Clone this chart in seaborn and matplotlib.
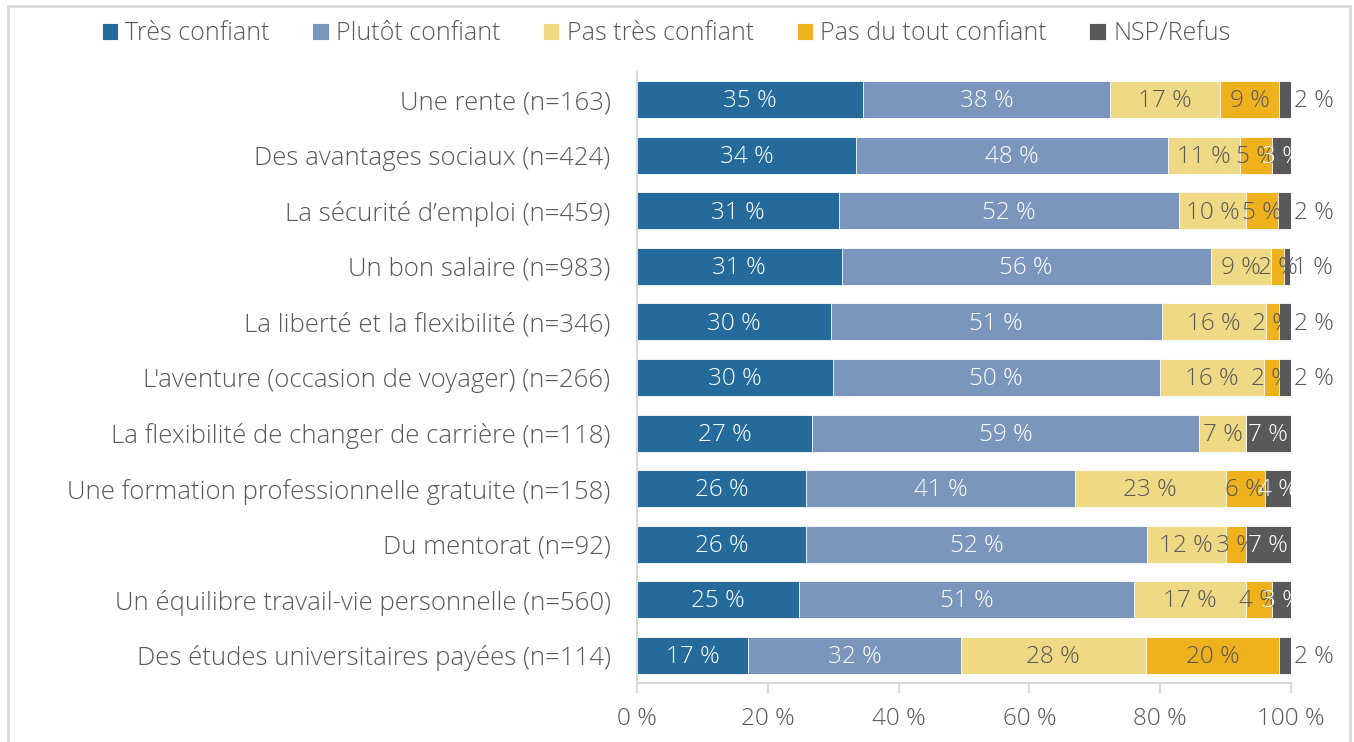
import matplotlib
matplotlib.use("Agg")
import matplotlib.pyplot as plt
import seaborn as sns
import numpy as np
import pandas as pd
from matplotlib.patches import Rectangle

categories = [
    "Une rente (n=163)",
    "Des avantages sociaux (n=424)",
    "La sécurité d\u2019emploi (n=459)",
    "Un bon salaire (n=983)",
    "La liberté et la flexibilité (n=346)",
    "L'aventure (occasion de voyager) (n=266)",
    "La flexibilité de changer de carrière (n=118)",
    "Une formation professionnelle gratuite (n=158)",
    "Du mentorat (n=92)",
    "Un équilibre travail-vie personnelle (n=560)",
    "Des études universitaires payées (n=114)",
]
series_names = ["Très confiant", "Plutôt confiant", "Pas très confiant",
                "Pas du tout confiant", "NSP/Refus"]
tres_confiant = [34.6, 33.5, 30.9, 31.3, 29.6, 29.9, 26.8, 25.9, 25.9, 24.8, 17.0]
plutot_confiant = [37.7, 47.7, 52.0, 56.4, 50.6, 50.1, 59.2, 41.0, 52.1, 51.2, 32.5]
pas_tres_confiant = [16.8, 11.0, 10.2, 9.3, 16.0, 15.9, 7.1, 23.1, 12.0, 17.1, 28.3]
pas_du_tout_confiant = [9.1, 4.9, 4.9, 2.0, 1.9, 2.2, 0.0, 6.0, 3.1, 4.0, 20.4]
nsp_refus = [1.8, 2.9, 2.0, 0.9, 1.9, 1.9, 6.9, 4.0, 6.9, 2.9, 1.8]
x_ticks = [0, 20, 40, 60, 80, 100]
x_tick_labels = ["0 %", "20 %", "40 %", "60 %", "80 %", "100 %"]

colors = ["#246A9A", "#7A96BC", "#F0D984", "#EFB21C", "#595959"]
label_colors = ["white", "white", "#595959", "#595959", "white"]
txt = "#595959"

sns.set_theme(style="white")
plt.rcParams["font.family"] = ["Open Sans", "DejaVu Sans"]
plt.rcParams["font.weight"] = "light"

values = np.array([tres_confiant, plutot_confiant, pas_tres_confiant,
                   pas_du_tout_confiant, nsp_refus])
cum = np.cumsum(values, axis=0)

fig = plt.figure(figsize=(13.54, 7.42), dpi=100)
ax = fig.add_axes([637 / 1354, 1 - 683 / 742, (1291 - 637) / 1354, (683 - 72) / 742])

# draw stacked bars by overlaying cumulative totals (largest first)
for i in range(len(series_names) - 1, -1, -1):
    df = pd.DataFrame({"cat": categories, "val": cum[i]})
    sns.barplot(data=df, x="val", y="cat", orient="h", color=colors[i],
                width=0.665, edgecolor="white", linewidth=0.6,
                saturation=1, ax=ax, label=series_names[i])

# data labels
fs_bar = 17.5
fs_cat = 18.5
for i in range(len(series_names)):
    for j in range(len(categories)):
        v = values[i, j]
        if v <= 0:
            continue
        lab = f"{int(round(v))} %"
        start = cum[i, j] - v
        if i == 4 and v < 2.5:
            ax.text(cum[i, j] + 0.4, j + 0.03, lab, ha="left", va="center",
                    fontsize=fs_bar, color=txt)
        else:
            ax.text(start + v / 2, j + 0.03, lab, ha="center", va="center",
                    fontsize=fs_bar, color=label_colors[i])

ax.set_xlim(0, 100)
ax.set_ylim(len(categories) - 0.5, -0.5)
ax.set_xticks(x_ticks)
ax.set_xticklabels(x_tick_labels, fontsize=fs_bar, color=txt)
ax.tick_params(axis="y", labelsize=fs_cat, labelcolor=txt, length=0, pad=19)
ax.tick_params(axis="x", length=7, width=1.5, color="#D9D9D9", pad=10,
               bottom=True)
ax.set_xlabel("")
ax.set_ylabel("")
for s in ["top", "right"]:
    ax.spines[s].set_visible(False)
for s in ["left", "bottom"]:
    ax.spines[s].set_color("#D9D9D9")
    ax.spines[s].set_linewidth(1.5)
ax.spines["bottom"].set_bounds(0, 100)

# legend
handles, labels = ax.get_legend_handles_labels()
order = [labels.index(n) for n in series_names]
ax.legend([handles[k] for k in order], [labels[k] for k in order],
          loc="center", bbox_to_anchor=(666 / 1354, 1 - 34 / 742),
          bbox_transform=fig.transFigure, ncol=5, frameon=False,
          fontsize=18, labelcolor=txt, handlelength=0.65,
          handleheight=0.65, handletextpad=0.3, columnspacing=1.7)

# outer frame
fig.patches.append(Rectangle((8 / 1354, -0.01), (1350 - 8) / 1354, 1.01 - 6 / 742,
                             transform=fig.transFigure, fill=False,
                             edgecolor="#D9D9D9", linewidth=2))

fig.savefig("out.png", dpi=100)
